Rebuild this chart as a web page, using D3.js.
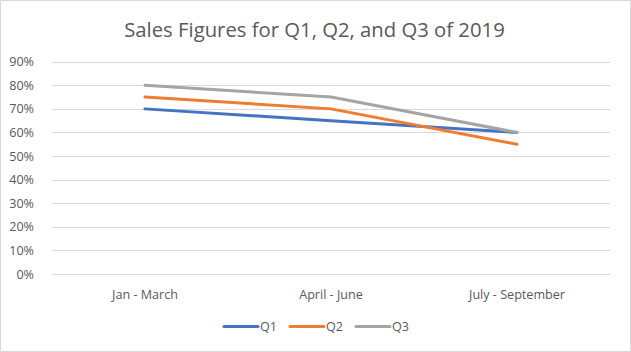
<!DOCTYPE html>
<html>
<head>
<meta charset="utf-8">
<script src="https://cdn.jsdelivr.net/npm/d3@7"></script>
<style>
  body { margin: 0; background: #fff; }
  text { font-family: "Open Sans", "Liberation Sans", sans-serif; }
</style>
</head>
<body>
<svg id="mainsvg" width="631" height="352"></svg>
<script>
const categories = ['Jan - March', 'April - June', 'July - September'];
const seriesNames = ['Q1', 'Q2', 'Q3'];
const q1 = [0.70, 0.65, 0.60];
const q2 = [0.75, 0.70, 0.55];
const q3 = [0.80, 0.75, 0.60];
const colors = ['#4472c4', '#ed7d31', '#a5a5a5'];
const yTicks = [0, 0.1, 0.2, 0.3, 0.4, 0.5, 0.6, 0.7, 0.8, 0.9];

const svg = d3.select('#mainsvg');
const width = +svg.attr('width');
const height = +svg.attr('height');

svg.append('rect')
  .attr('x', 0.5).attr('y', 0.5)
  .attr('width', width - 1).attr('height', height - 1)
  .attr('fill', '#fff').attr('stroke', '#d9d9d9');

const plotLeft = 52, plotRight = 610, plotTop = 61.7, plotBottom = 274;

const x = d3.scaleBand().domain(categories).range([plotLeft, plotRight]);
const y = d3.scaleLinear().domain([0, 0.9]).range([plotBottom, plotTop]);

svg.append('text')
  .attr('x', width / 2 - 1).attr('y', 37)
  .attr('text-anchor', 'middle')
  .attr('font-size', 20.3)
  .attr('fill', '#595959')
  .text('Sales Figures for Q1, Q2, and Q3 of 2019');

// gridlines
svg.append('g').selectAll('line')
  .data(yTicks)
  .join('line')
  .attr('x1', plotLeft).attr('x2', plotRight)
  .attr('y1', d => Math.round(y(d)) + 0.5)
  .attr('y2', d => Math.round(y(d)) + 0.5)
  .attr('stroke', '#d9d9d9');

// y axis labels
const yAxis = svg.append('g')
  .attr('transform', `translate(${plotLeft - 15},0)`)
  .call(d3.axisLeft(y).tickValues(yTicks).tickFormat(d3.format('.0%')).tickSize(0));
yAxis.select('.domain').remove();
yAxis.selectAll('text')
  .attr('font-size', 12.6)
  .attr('fill', '#595959')
  .attr('font-family', '"Open Sans", sans-serif');

// x axis labels
const xAxis = svg.append('g')
  .attr('transform', `translate(0,${plotBottom + 13})`)
  .call(d3.axisBottom(x).tickSize(0));
xAxis.select('.domain').remove();
xAxis.selectAll('text')
  .attr('font-size', 12.6)
  .attr('fill', '#595959')
  .attr('font-family', '"Open Sans", sans-serif');

const data = [q1, q2, q3];
const line = d3.line()
  .x((d, i) => x(categories[i]) + x.bandwidth() / 2)
  .y(d => y(d));

svg.append('g').selectAll('path')
  .data(data)
  .join('path')
  .attr('d', line)
  .attr('fill', 'none')
  .attr('stroke', (d, i) => colors[i])
  .attr('stroke-width', 3)
  .attr('stroke-linecap', 'round')
  .attr('stroke-linejoin', 'round');

// legend
const legendX = [224, 290, 356];
const legend = svg.append('g').selectAll('g')
  .data(seriesNames)
  .join('g')
  .attr('transform', (d, i) => `translate(${legendX[i]},326.5)`);
legend.append('line')
  .attr('x1', 0).attr('x2', 34)
  .attr('stroke', (d, i) => colors[i])
  .attr('stroke-width', 3)
  .attr('stroke-linecap', 'round');
legend.append('text')
  .attr('x', 36).attr('dy', '0.35em')
  .attr('font-size', 12.6)
  .attr('fill', '#595959')
  .text(d => d);
</script>
</body>
</html>
